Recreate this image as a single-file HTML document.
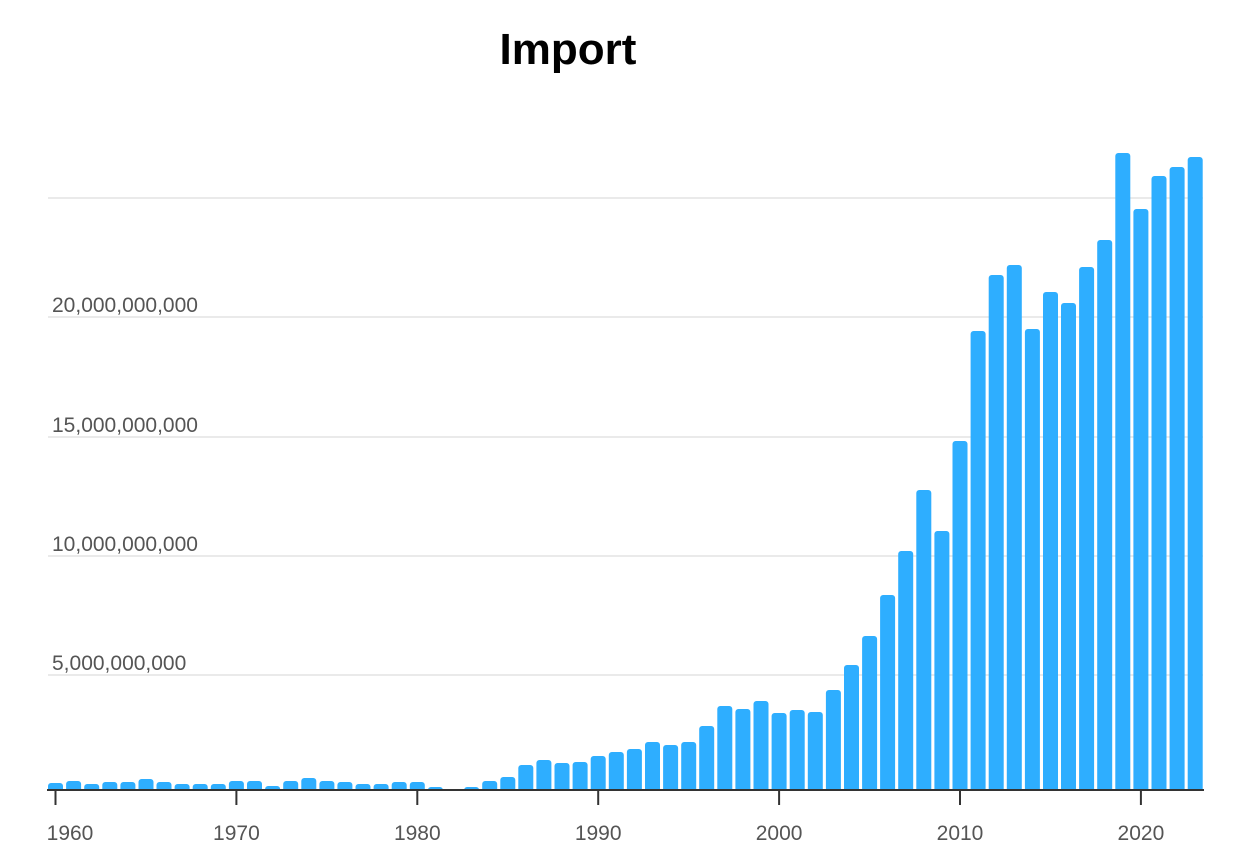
<!DOCTYPE html>
<html><head><meta charset="utf-8"><style>
html,body{margin:0;padding:0;background:#fff;width:1250px;height:855px;overflow:hidden}
</style></head><body>
<svg width="1250" height="855" xmlns="http://www.w3.org/2000/svg" font-family="Liberation Sans, sans-serif">
<text x="568" y="64" text-anchor="middle" font-size="44" font-weight="bold" fill="#000">Import</text>
<g stroke="#e3e3e3" stroke-width="1.5">
<line x1="48" x2="1203" y1="198" y2="198"/>
<line x1="48" x2="1203" y1="317" y2="317"/>
<line x1="48" x2="1203" y1="437" y2="437"/>
<line x1="48" x2="1203" y1="556" y2="556"/>
<line x1="48" x2="1203" y1="675" y2="675"/>
</g>
<g font-size="21" fill="#555">
<text x="52" y="312">20,000,000,000</text>
<text x="52" y="432">15,000,000,000</text>
<text x="52" y="551">10,000,000,000</text>
<text x="52" y="670">5,000,000,000</text>
</g>
<g fill="#2eaeff">
<rect x="48.0" y="783" width="15" height="20" rx="3"/>
<rect x="66.1" y="781" width="15" height="20" rx="3"/>
<rect x="84.2" y="784" width="15" height="20" rx="3"/>
<rect x="102.3" y="782" width="15" height="20" rx="3"/>
<rect x="120.4" y="782" width="15" height="20" rx="3"/>
<rect x="138.5" y="779" width="15" height="25" rx="3"/>
<rect x="156.5" y="782" width="15" height="20" rx="3"/>
<rect x="174.6" y="784" width="15" height="20" rx="3"/>
<rect x="192.7" y="784" width="15" height="20" rx="3"/>
<rect x="210.8" y="784" width="15" height="20" rx="3"/>
<rect x="228.9" y="781" width="15" height="20" rx="3"/>
<rect x="247.0" y="781" width="15" height="20" rx="3"/>
<rect x="265.1" y="786" width="15" height="20" rx="3"/>
<rect x="283.2" y="781" width="15" height="20" rx="3"/>
<rect x="301.3" y="778" width="15" height="25" rx="3"/>
<rect x="319.4" y="781" width="15" height="20" rx="3"/>
<rect x="337.4" y="782" width="15" height="20" rx="3"/>
<rect x="355.5" y="784" width="15" height="20" rx="3"/>
<rect x="373.6" y="784" width="15" height="20" rx="3"/>
<rect x="391.7" y="782" width="15" height="20" rx="3"/>
<rect x="409.8" y="782" width="15" height="20" rx="3"/>
<rect x="427.9" y="787" width="15" height="20" rx="3"/>
<rect x="464.1" y="787" width="15" height="20" rx="3"/>
<rect x="482.2" y="781" width="15" height="20" rx="3"/>
<rect x="500.3" y="777" width="15" height="25" rx="3"/>
<rect x="518.3" y="765" width="15" height="40" rx="3"/>
<rect x="536.4" y="760" width="15" height="40" rx="3"/>
<rect x="554.5" y="763" width="15" height="40" rx="3"/>
<rect x="572.6" y="762" width="15" height="40" rx="3"/>
<rect x="590.7" y="756" width="15" height="45" rx="3"/>
<rect x="608.8" y="752" width="15" height="50" rx="3"/>
<rect x="626.9" y="749" width="15" height="50" rx="3"/>
<rect x="645.0" y="742" width="15" height="60" rx="3"/>
<rect x="663.1" y="745" width="15" height="55" rx="3"/>
<rect x="681.2" y="742" width="15" height="60" rx="3"/>
<rect x="699.2" y="726" width="15" height="75" rx="3"/>
<rect x="717.3" y="706" width="15" height="95" rx="3"/>
<rect x="735.4" y="709" width="15" height="90" rx="3"/>
<rect x="753.5" y="701" width="15" height="100" rx="3"/>
<rect x="771.6" y="713" width="15" height="90" rx="3"/>
<rect x="789.7" y="710" width="15" height="90" rx="3"/>
<rect x="807.8" y="712" width="15" height="90" rx="3"/>
<rect x="825.9" y="690" width="15" height="110" rx="3"/>
<rect x="844.0" y="665" width="15" height="135" rx="3"/>
<rect x="862.1" y="636" width="15" height="165" rx="3"/>
<rect x="880.1" y="595" width="15" height="205" rx="3"/>
<rect x="898.2" y="551" width="15" height="250" rx="3"/>
<rect x="916.3" y="490" width="15" height="310" rx="3"/>
<rect x="934.4" y="531" width="15" height="270" rx="3"/>
<rect x="952.5" y="441" width="15" height="360" rx="3"/>
<rect x="970.6" y="331" width="15" height="470" rx="3"/>
<rect x="988.7" y="275" width="15" height="525" rx="3"/>
<rect x="1006.8" y="265" width="15" height="535" rx="3"/>
<rect x="1024.9" y="329" width="15" height="470" rx="3"/>
<rect x="1043.0" y="292" width="15" height="510" rx="3"/>
<rect x="1061.0" y="303" width="15" height="500" rx="3"/>
<rect x="1079.1" y="267" width="15" height="535" rx="3"/>
<rect x="1097.2" y="240" width="15" height="560" rx="3"/>
<rect x="1115.3" y="153" width="15" height="650" rx="3"/>
<rect x="1133.4" y="209" width="15" height="595" rx="3"/>
<rect x="1151.5" y="176" width="15" height="625" rx="3"/>
<rect x="1169.6" y="167" width="15" height="635" rx="3"/>
<rect x="1187.7" y="157" width="15" height="645" rx="3"/>
</g>
<rect x="40" y="790" width="1180" height="30" fill="#fff"/>
<line x1="47" x2="1204" y1="790" y2="790" stroke="#333" stroke-width="2"/>
<g stroke="#333" stroke-width="2">
<line x1="55.5" x2="55.5" y1="790" y2="805"/><line x1="236.4" x2="236.4" y1="790" y2="805"/><line x1="417.3" x2="417.3" y1="790" y2="805"/><line x1="598.2" x2="598.2" y1="790" y2="805"/><line x1="779.1" x2="779.1" y1="790" y2="805"/><line x1="960" x2="960" y1="790" y2="805"/><line x1="1140.9" x2="1140.9" y1="790" y2="805"/>
</g>
<g font-size="21" fill="#555" text-anchor="middle">
<text x="70" y="840">1960</text><text x="236.4" y="840">1970</text><text x="417.3" y="840">1980</text><text x="598.2" y="840">1990</text><text x="779.1" y="840">2000</text><text x="960" y="840">2010</text><text x="1140.9" y="840">2020</text>
</g>
</svg>
</body></html>
